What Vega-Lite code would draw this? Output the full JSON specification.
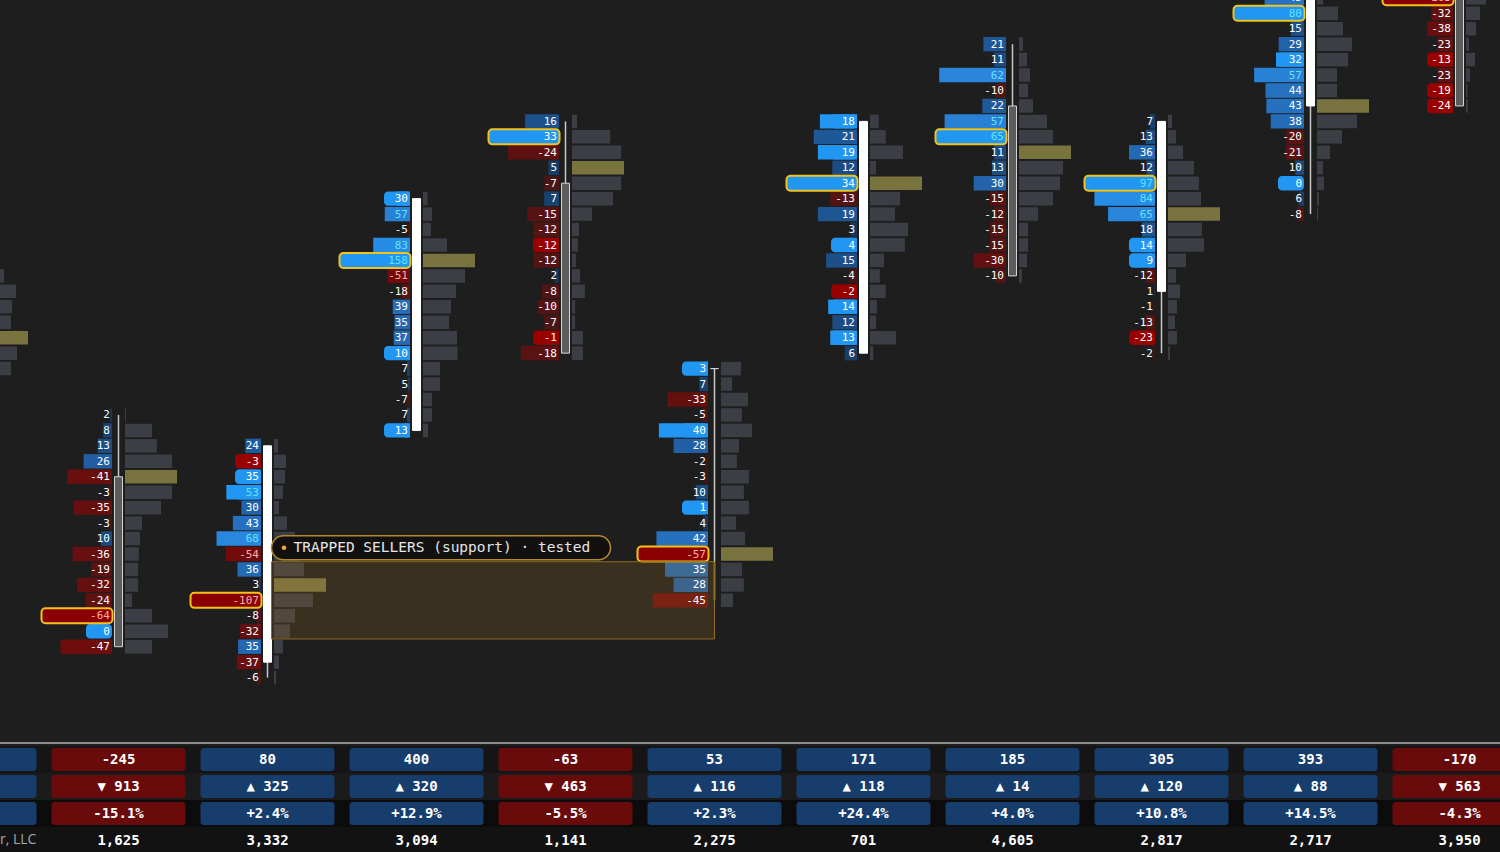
{
"$schema":"https://vega.github.io/schema/vega-lite/v6.json",
"width":1500,"height":852,"autosize":{"type":"none"},"padding":0,"background":"#1e1e1e",
"config":{"view":{"stroke":null},"text":{"font":"DejaVu Sans Mono"}},
"datasets":{
"cells":[
{"col":0,"lvl":26,"vol":280},{"col":0,"lvl":25,"vol":400},{"col":0,"lvl":24,"vol":360},{"col":0,"lvl":23,"vol":350},{"col":0,"lvl":22,"vol":520},{"col":0,"lvl":21,"vol":410},{"col":0,"lvl":20,"vol":350},
{"col":1,"lvl":17,"delta":2,"vol":4},{"col":1,"lvl":16,"delta":8,"vol":105},{"col":1,"lvl":15,"delta":13,"vol":124},{"col":1,"lvl":14,"delta":26,"vol":183},{"col":1,"lvl":13,"delta":-41,"vol":202},{"col":1,"lvl":12,"delta":-3,"vol":183},{"col":1,"lvl":11,"delta":-35,"vol":140},{"col":1,"lvl":10,"delta":-3,"vol":66},{"col":1,"lvl":9,"delta":10,"vol":58},{"col":1,"lvl":8,"delta":-36,"vol":54},{"col":1,"lvl":7,"delta":-19,"vol":51},{"col":1,"lvl":6,"delta":-32,"vol":51},{"col":1,"lvl":5,"delta":-24,"vol":27},{"col":1,"lvl":4,"delta":-64,"vol":105},{"col":1,"lvl":3,"delta":0,"vol":167,"imb":true},{"col":1,"lvl":2,"delta":-47,"vol":105},
{"col":2,"lvl":15,"delta":24,"vol":49},{"col":2,"lvl":14,"delta":-3,"vol":146,"imb":true},{"col":2,"lvl":13,"delta":35,"vol":134,"imb":true},{"col":2,"lvl":12,"delta":53,"vol":109,"imb":true},{"col":2,"lvl":11,"delta":30,"vol":61},{"col":2,"lvl":10,"delta":43,"vol":158},{"col":2,"lvl":9,"delta":68,"vol":255},{"col":2,"lvl":8,"delta":-54,"vol":304},{"col":2,"lvl":7,"delta":36,"vol":365},{"col":2,"lvl":6,"delta":3,"vol":632},{"col":2,"lvl":5,"delta":-107,"vol":474},{"col":2,"lvl":4,"delta":-8,"vol":255},{"col":2,"lvl":3,"delta":-32,"vol":195},{"col":2,"lvl":2,"delta":35,"vol":109},{"col":2,"lvl":1,"delta":-37,"vol":61},{"col":2,"lvl":0,"delta":-6,"vol":25},
{"col":3,"lvl":31,"delta":30,"vol":40,"imb":true},{"col":3,"lvl":30,"delta":57,"vol":79},{"col":3,"lvl":29,"delta":-5,"vol":70},{"col":3,"lvl":28,"delta":83,"vol":211},{"col":3,"lvl":27,"delta":158,"vol":457},{"col":3,"lvl":26,"delta":-51,"vol":369},{"col":3,"lvl":25,"delta":-18,"vol":290},{"col":3,"lvl":24,"delta":39,"vol":246},{"col":3,"lvl":23,"delta":35,"vol":229},{"col":3,"lvl":22,"delta":37,"vol":299},{"col":3,"lvl":21,"delta":10,"vol":304,"imb":true},{"col":3,"lvl":20,"delta":7,"vol":149},{"col":3,"lvl":19,"delta":5,"vol":149},{"col":3,"lvl":18,"delta":-7,"vol":79},{"col":3,"lvl":17,"delta":7,"vol":79},{"col":3,"lvl":16,"delta":13,"vol":44,"imb":true},
{"col":4,"lvl":36,"delta":16,"vol":18},{"col":4,"lvl":35,"delta":33,"vol":136},{"col":4,"lvl":34,"delta":-24,"vol":175},{"col":4,"lvl":33,"delta":5,"vol":185},{"col":4,"lvl":32,"delta":-7,"vol":175},{"col":4,"lvl":31,"delta":7,"vol":146},{"col":4,"lvl":30,"delta":-15,"vol":71},{"col":4,"lvl":29,"delta":-12,"vol":25},{"col":4,"lvl":28,"delta":-12,"vol":21,"imb":true},{"col":4,"lvl":27,"delta":-12,"vol":14},{"col":4,"lvl":26,"delta":2,"vol":29},{"col":4,"lvl":25,"delta":-8,"vol":46},{"col":4,"lvl":24,"delta":-10,"vol":11},{"col":4,"lvl":23,"delta":-7,"vol":11},{"col":4,"lvl":22,"delta":-1,"vol":39,"imb":true},{"col":4,"lvl":21,"delta":-18,"vol":39},
{"col":5,"lvl":20,"delta":3,"vol":123,"imb":true},{"col":5,"lvl":19,"delta":7,"vol":68},{"col":5,"lvl":18,"delta":-33,"vol":166},{"col":5,"lvl":17,"delta":-5,"vol":129},{"col":5,"lvl":16,"delta":40,"vol":191,"imb":true},{"col":5,"lvl":15,"delta":28,"vol":111},{"col":5,"lvl":14,"delta":-2,"vol":98},{"col":5,"lvl":13,"delta":-3,"vol":172},{"col":5,"lvl":12,"delta":10,"vol":141},{"col":5,"lvl":11,"delta":1,"vol":172,"imb":true},{"col":5,"lvl":10,"delta":4,"vol":92},{"col":5,"lvl":9,"delta":42,"vol":148},{"col":5,"lvl":8,"delta":-57,"vol":320},{"col":5,"lvl":7,"delta":35,"vol":129},{"col":5,"lvl":6,"delta":28,"vol":141},{"col":5,"lvl":5,"delta":-45,"vol":74},
{"col":6,"lvl":36,"delta":18,"vol":19,"imb":true},{"col":6,"lvl":35,"delta":21,"vol":34},{"col":6,"lvl":34,"delta":19,"vol":71,"imb":true},{"col":6,"lvl":33,"delta":12,"vol":13},{"col":6,"lvl":32,"delta":34,"vol":112},{"col":6,"lvl":31,"delta":-13,"vol":65},{"col":6,"lvl":30,"delta":19,"vol":54},{"col":6,"lvl":29,"delta":3,"vol":82},{"col":6,"lvl":28,"delta":4,"vol":75,"imb":true},{"col":6,"lvl":27,"delta":15,"vol":30},{"col":6,"lvl":26,"delta":-4,"vol":21},{"col":6,"lvl":25,"delta":-2,"vol":34,"imb":true},{"col":6,"lvl":24,"delta":14,"vol":15,"imb":true},{"col":6,"lvl":23,"delta":12,"vol":13},{"col":6,"lvl":22,"delta":13,"vol":56,"imb":true},{"col":6,"lvl":21,"delta":6,"vol":7},
{"col":7,"lvl":41,"delta":21,"vol":56},{"col":7,"lvl":40,"delta":11,"vol":113},{"col":7,"lvl":39,"delta":62,"vol":155},{"col":7,"lvl":38,"delta":-10,"vol":127},{"col":7,"lvl":37,"delta":22,"vol":197},{"col":7,"lvl":36,"delta":57,"vol":394},{"col":7,"lvl":35,"delta":65,"vol":479},{"col":7,"lvl":34,"delta":11,"vol":732},{"col":7,"lvl":33,"delta":13,"vol":620},{"col":7,"lvl":32,"delta":30,"vol":577},{"col":7,"lvl":31,"delta":-15,"vol":479},{"col":7,"lvl":30,"delta":-12,"vol":268},{"col":7,"lvl":29,"delta":-15,"vol":127},{"col":7,"lvl":28,"delta":-15,"vol":127},{"col":7,"lvl":27,"delta":-30,"vol":113},{"col":7,"lvl":26,"delta":-10,"vol":41},
{"col":8,"lvl":36,"delta":7,"vol":37},{"col":8,"lvl":35,"delta":13,"vol":74},{"col":8,"lvl":34,"delta":36,"vol":139},{"col":8,"lvl":33,"delta":12,"vol":241},{"col":8,"lvl":32,"delta":97,"vol":287},{"col":8,"lvl":31,"delta":84,"vol":306},{"col":8,"lvl":30,"delta":65,"vol":482},{"col":8,"lvl":29,"delta":18,"vol":315},{"col":8,"lvl":28,"delta":14,"vol":334,"imb":true},{"col":8,"lvl":27,"delta":9,"vol":167,"imb":true},{"col":8,"lvl":26,"delta":-12,"vol":74},{"col":8,"lvl":25,"delta":1,"vol":111},{"col":8,"lvl":24,"delta":-1,"vol":83},{"col":8,"lvl":23,"delta":-13,"vol":65},{"col":8,"lvl":22,"delta":-23,"vol":83,"imb":true},{"col":8,"lvl":21,"delta":-2,"vol":19},
{"col":9,"lvl":45,"delta":43,"vol":216},{"col":9,"lvl":44,"delta":45,"vol":50},{"col":9,"lvl":43,"delta":80,"vol":172},{"col":9,"lvl":42,"delta":15,"vol":213},{"col":9,"lvl":41,"delta":29,"vol":287},{"col":9,"lvl":40,"delta":32,"vol":254,"imb":true},{"col":9,"lvl":39,"delta":57,"vol":164},{"col":9,"lvl":38,"delta":44,"vol":164},{"col":9,"lvl":37,"delta":43,"vol":426},{"col":9,"lvl":36,"delta":38,"vol":328},{"col":9,"lvl":35,"delta":-20,"vol":205},{"col":9,"lvl":34,"delta":-21,"vol":107},{"col":9,"lvl":33,"delta":10,"vol":49},{"col":9,"lvl":32,"delta":0,"vol":57,"imb":true},{"col":9,"lvl":31,"delta":6,"vol":16},{"col":9,"lvl":30,"delta":-8,"vol":9},
{"col":10,"lvl":48,"delta":15,"vol":629},{"col":10,"lvl":47,"delta":20,"vol":800},{"col":10,"lvl":46,"delta":30,"vol":700},{"col":10,"lvl":45,"delta":40,"vol":822},{"col":10,"lvl":44,"delta":-103,"vol":316},{"col":10,"lvl":43,"delta":-32,"vol":221},{"col":10,"lvl":42,"delta":-38,"vol":158},{"col":10,"lvl":41,"delta":-23,"vol":47},{"col":10,"lvl":40,"delta":-13,"vol":142,"imb":true},{"col":10,"lvl":39,"delta":-23,"vol":63},{"col":10,"lvl":38,"delta":-19,"vol":24,"imb":true},{"col":10,"lvl":37,"delta":-24,"vol":28,"imb":true}
],
"candles":[
{"col":1,"open":13,"high":17,"low":2,"close":2},{"col":2,"open":1,"high":15,"low":0,"close":15},{"col":3,"open":16,"high":31,"low":16,"close":31},{"col":4,"open":32,"high":36,"low":21,"close":21},{"col":5,"open":20,"high":20,"low":5,"close":20},{"col":6,"open":21,"high":36,"low":21,"close":36},{"col":7,"open":37,"high":41,"low":26,"close":26},{"col":8,"open":25,"high":36,"low":21,"close":36},{"col":9,"open":37,"high":46,"low":30,"close":46},{"col":10,"open":48,"high":48,"low":37,"close":37}
],
"table":[
{"col":0,"row":1,"text":"668"},{"col":0,"row":2,"text":"▲ 412"},{"col":0,"row":3,"text":"+21.4%"},{"col":0,"row":4,"text":"3,120"},
{"col":1,"row":1,"text":"-245"},{"col":1,"row":2,"text":"▼ 913"},{"col":1,"row":3,"text":"-15.1%"},{"col":1,"row":4,"text":"1,625"},
{"col":2,"row":1,"text":"80"},{"col":2,"row":2,"text":"▲ 325"},{"col":2,"row":3,"text":"+2.4%"},{"col":2,"row":4,"text":"3,332"},
{"col":3,"row":1,"text":"400"},{"col":3,"row":2,"text":"▲ 320"},{"col":3,"row":3,"text":"+12.9%"},{"col":3,"row":4,"text":"3,094"},
{"col":4,"row":1,"text":"-63"},{"col":4,"row":2,"text":"▼ 463"},{"col":4,"row":3,"text":"-5.5%"},{"col":4,"row":4,"text":"1,141"},
{"col":5,"row":1,"text":"53"},{"col":5,"row":2,"text":"▲ 116"},{"col":5,"row":3,"text":"+2.3%"},{"col":5,"row":4,"text":"2,275"},
{"col":6,"row":1,"text":"171"},{"col":6,"row":2,"text":"▲ 118"},{"col":6,"row":3,"text":"+24.4%"},{"col":6,"row":4,"text":"701"},
{"col":7,"row":1,"text":"185"},{"col":7,"row":2,"text":"▲ 14"},{"col":7,"row":3,"text":"+4.0%"},{"col":7,"row":4,"text":"4,605"},
{"col":8,"row":1,"text":"305"},{"col":8,"row":2,"text":"▲ 120"},{"col":8,"row":3,"text":"+10.8%"},{"col":8,"row":4,"text":"2,817"},
{"col":9,"row":1,"text":"393"},{"col":9,"row":2,"text":"▲ 88"},{"col":9,"row":3,"text":"+14.5%"},{"col":9,"row":4,"text":"2,717"},
{"col":10,"row":1,"text":"-170"},{"col":10,"row":2,"text":"▼ 563"},{"col":10,"row":3,"text":"-4.3%"},{"col":10,"row":4,"text":"3,950"}
],
"rows":[{"row":1,"metric":"delta"},{"row":2,"metric":"delta change"},{"row":3,"metric":"delta %"},{"row":4,"metric":"volume"}],
"zone":[{"fromCol":2,"toCol":5,"lo":2.5,"hi":7.5,"label":"TRAPPED SELLERS (support) · tested"}],
"credit":[{"note":"r, LLC","pos":0,"row":4}]
},
"encoding":{"y":{"field":"lvl","type":"quantitative","scale":{"domain":[-11.288,43.858]},"axis":null}},
"layer":[
{"data":{"name":"rows"},"mark":{"type":"rect","yOffset":-13.5,"y2Offset":13.5},"encoding":{"y":{"field":"row","type":"quantitative","scale":{"domain":[-27.13,4.426],"reverse":true},"axis":null},"y2":{"field":"row"},"color":{"condition":[{"test":"datum.row==1","value":"#151515"},{"test":"datum.row==2","value":"#1b1b1b"},{"test":"datum.row==3","value":"#0c0c0c"}],"value":"#121212"}}},
{"data":{"name":"rows"},"transform":[{"filter":"datum.row==1"}],"mark":{"type":"rule","yOffset":-16.5,"color":"#8c8c8c","strokeWidth":2},"encoding":{"y":{"field":"row","type":"quantitative","scale":{"domain":[-27.13,4.426],"reverse":true},"axis":null}}},

{"data":{"name":"cells"},"transform":[{"filter":"datum.col==0"},{"joinaggregate":[{"op":"max","field":"vol","as":"vmax"}]}],"mark":{"type":"rect","yOffset":-6.75,"y2Offset":6.75},"encoding":{"x":{"field":"vol","type":"quantitative","scale":{"range":[-24,28],"zero":true,"nice":false},"axis":null},"x2":{"datum":0},"y2":{"field":"lvl"},"color":{"condition":{"test":"datum.vol==datum.vmax","value":"#79733f"},"value":"#3b3e44"}}},
{"data":{"name":"cells"},"transform":[{"filter":"datum.col==1"},{"joinaggregate":[{"op":"max","field":"vol","as":"vmax"}]}],"mark":{"type":"rect","yOffset":-6.75,"y2Offset":6.75},"encoding":{"x":{"field":"vol","type":"quantitative","scale":{"range":[125,177],"zero":true,"nice":false},"axis":null},"x2":{"datum":0},"y2":{"field":"lvl"},"color":{"condition":{"test":"datum.vol==datum.vmax","value":"#79733f"},"value":"#3b3e44"}}},
{"data":{"name":"cells"},"transform":[{"filter":"datum.col==2"},{"joinaggregate":[{"op":"max","field":"vol","as":"vmax"}]}],"mark":{"type":"rect","yOffset":-6.75,"y2Offset":6.75},"encoding":{"x":{"field":"vol","type":"quantitative","scale":{"range":[274,326],"zero":true,"nice":false},"axis":null},"x2":{"datum":0},"y2":{"field":"lvl"},"color":{"condition":{"test":"datum.vol==datum.vmax","value":"#79733f"},"value":"#3b3e44"}}},
{"data":{"name":"cells"},"transform":[{"filter":"datum.col==3"},{"joinaggregate":[{"op":"max","field":"vol","as":"vmax"}]}],"mark":{"type":"rect","yOffset":-6.75,"y2Offset":6.75},"encoding":{"x":{"field":"vol","type":"quantitative","scale":{"range":[423,475],"zero":true,"nice":false},"axis":null},"x2":{"datum":0},"y2":{"field":"lvl"},"color":{"condition":{"test":"datum.vol==datum.vmax","value":"#79733f"},"value":"#3b3e44"}}},
{"data":{"name":"cells"},"transform":[{"filter":"datum.col==4"},{"joinaggregate":[{"op":"max","field":"vol","as":"vmax"}]}],"mark":{"type":"rect","yOffset":-6.75,"y2Offset":6.75},"encoding":{"x":{"field":"vol","type":"quantitative","scale":{"range":[572,624],"zero":true,"nice":false},"axis":null},"x2":{"datum":0},"y2":{"field":"lvl"},"color":{"condition":{"test":"datum.vol==datum.vmax","value":"#79733f"},"value":"#3b3e44"}}},
{"data":{"name":"cells"},"transform":[{"filter":"datum.col==5"},{"joinaggregate":[{"op":"max","field":"vol","as":"vmax"}]}],"mark":{"type":"rect","yOffset":-6.75,"y2Offset":6.75},"encoding":{"x":{"field":"vol","type":"quantitative","scale":{"range":[721,773],"zero":true,"nice":false},"axis":null},"x2":{"datum":0},"y2":{"field":"lvl"},"color":{"condition":{"test":"datum.vol==datum.vmax","value":"#79733f"},"value":"#3b3e44"}}},
{"data":{"name":"cells"},"transform":[{"filter":"datum.col==6"},{"joinaggregate":[{"op":"max","field":"vol","as":"vmax"}]}],"mark":{"type":"rect","yOffset":-6.75,"y2Offset":6.75},"encoding":{"x":{"field":"vol","type":"quantitative","scale":{"range":[870,922],"zero":true,"nice":false},"axis":null},"x2":{"datum":0},"y2":{"field":"lvl"},"color":{"condition":{"test":"datum.vol==datum.vmax","value":"#79733f"},"value":"#3b3e44"}}},
{"data":{"name":"cells"},"transform":[{"filter":"datum.col==7"},{"joinaggregate":[{"op":"max","field":"vol","as":"vmax"}]}],"mark":{"type":"rect","yOffset":-6.75,"y2Offset":6.75},"encoding":{"x":{"field":"vol","type":"quantitative","scale":{"range":[1019,1071],"zero":true,"nice":false},"axis":null},"x2":{"datum":0},"y2":{"field":"lvl"},"color":{"condition":{"test":"datum.vol==datum.vmax","value":"#79733f"},"value":"#3b3e44"}}},
{"data":{"name":"cells"},"transform":[{"filter":"datum.col==8"},{"joinaggregate":[{"op":"max","field":"vol","as":"vmax"}]}],"mark":{"type":"rect","yOffset":-6.75,"y2Offset":6.75},"encoding":{"x":{"field":"vol","type":"quantitative","scale":{"range":[1168,1220],"zero":true,"nice":false},"axis":null},"x2":{"datum":0},"y2":{"field":"lvl"},"color":{"condition":{"test":"datum.vol==datum.vmax","value":"#79733f"},"value":"#3b3e44"}}},
{"data":{"name":"cells"},"transform":[{"filter":"datum.col==9"},{"joinaggregate":[{"op":"max","field":"vol","as":"vmax"}]}],"mark":{"type":"rect","yOffset":-6.75,"y2Offset":6.75},"encoding":{"x":{"field":"vol","type":"quantitative","scale":{"range":[1317,1369],"zero":true,"nice":false},"axis":null},"x2":{"datum":0},"y2":{"field":"lvl"},"color":{"condition":{"test":"datum.vol==datum.vmax","value":"#79733f"},"value":"#3b3e44"}}},
{"data":{"name":"cells"},"transform":[{"filter":"datum.col==10"},{"joinaggregate":[{"op":"max","field":"vol","as":"vmax"}]}],"mark":{"type":"rect","yOffset":-6.75,"y2Offset":6.75},"encoding":{"x":{"field":"vol","type":"quantitative","scale":{"range":[1466,1518],"zero":true,"nice":false},"axis":null},"x2":{"datum":0},"y2":{"field":"lvl"},"color":{"condition":{"test":"datum.vol==datum.vmax","value":"#79733f"},"value":"#3b3e44"}}},

{"data":{"name":"cells"},"transform":[{"filter":"datum.col==1 && datum.delta!=null"}],"mark":{"type":"rect","yOffset":-7.2,"y2Offset":7.2},"encoding":{"x":{"field":"delta","type":"quantitative","scale":{"domain":[-64,0,64],"range":[42,112,42],"zero":false,"nice":false},"axis":null},"x2":{"datum":0},"y2":{"field":"lvl"},"color":{"condition":[{"test":"datum.imb && datum.delta>=0","value":"#2196f3"},{"test":"datum.imb && datum.delta<0","value":"#990000"}],"field":"delta","type":"quantitative","scale":{"domain":[-110,-60,-30,-10,-1,0,1,10,30,60,110],"range":["#8b0000","#780909","#641010","#521414","#3a1818","#1e1e1e","#16314f","#1b4a7e","#2263aa","#2a84da","#2196f3"]},"legend":null}}},
{"data":{"name":"cells"},"transform":[{"filter":"datum.col==2 && datum.delta!=null"}],"mark":{"type":"rect","yOffset":-7.2,"y2Offset":7.2},"encoding":{"x":{"field":"delta","type":"quantitative","scale":{"domain":[-107,0,107],"range":[191,261,191],"zero":false,"nice":false},"axis":null},"x2":{"datum":0},"y2":{"field":"lvl"},"color":{"condition":[{"test":"datum.imb && datum.delta>=0","value":"#2196f3"},{"test":"datum.imb && datum.delta<0","value":"#990000"}],"field":"delta","type":"quantitative","scale":{"domain":[-110,-60,-30,-10,-1,0,1,10,30,60,110],"range":["#8b0000","#780909","#641010","#521414","#3a1818","#1e1e1e","#16314f","#1b4a7e","#2263aa","#2a84da","#2196f3"]},"legend":null}}},
{"data":{"name":"cells"},"transform":[{"filter":"datum.col==3 && datum.delta!=null"}],"mark":{"type":"rect","yOffset":-7.2,"y2Offset":7.2},"encoding":{"x":{"field":"delta","type":"quantitative","scale":{"domain":[-158,0,158],"range":[340,410,340],"zero":false,"nice":false},"axis":null},"x2":{"datum":0},"y2":{"field":"lvl"},"color":{"condition":[{"test":"datum.imb && datum.delta>=0","value":"#2196f3"},{"test":"datum.imb && datum.delta<0","value":"#990000"}],"field":"delta","type":"quantitative","scale":{"domain":[-110,-60,-30,-10,-1,0,1,10,30,60,110],"range":["#8b0000","#780909","#641010","#521414","#3a1818","#1e1e1e","#16314f","#1b4a7e","#2263aa","#2a84da","#2196f3"]},"legend":null}}},
{"data":{"name":"cells"},"transform":[{"filter":"datum.col==4 && datum.delta!=null"}],"mark":{"type":"rect","yOffset":-7.2,"y2Offset":7.2},"encoding":{"x":{"field":"delta","type":"quantitative","scale":{"domain":[-33,0,33],"range":[489,559,489],"zero":false,"nice":false},"axis":null},"x2":{"datum":0},"y2":{"field":"lvl"},"color":{"condition":[{"test":"datum.imb && datum.delta>=0","value":"#2196f3"},{"test":"datum.imb && datum.delta<0","value":"#990000"}],"field":"delta","type":"quantitative","scale":{"domain":[-110,-60,-30,-10,-1,0,1,10,30,60,110],"range":["#8b0000","#780909","#641010","#521414","#3a1818","#1e1e1e","#16314f","#1b4a7e","#2263aa","#2a84da","#2196f3"]},"legend":null}}},
{"data":{"name":"cells"},"transform":[{"filter":"datum.col==5 && datum.delta!=null"}],"mark":{"type":"rect","yOffset":-7.2,"y2Offset":7.2},"encoding":{"x":{"field":"delta","type":"quantitative","scale":{"domain":[-57,0,57],"range":[638,708,638],"zero":false,"nice":false},"axis":null},"x2":{"datum":0},"y2":{"field":"lvl"},"color":{"condition":[{"test":"datum.imb && datum.delta>=0","value":"#2196f3"},{"test":"datum.imb && datum.delta<0","value":"#990000"}],"field":"delta","type":"quantitative","scale":{"domain":[-110,-60,-30,-10,-1,0,1,10,30,60,110],"range":["#8b0000","#780909","#641010","#521414","#3a1818","#1e1e1e","#16314f","#1b4a7e","#2263aa","#2a84da","#2196f3"]},"legend":null}}},
{"data":{"name":"cells"},"transform":[{"filter":"datum.col==6 && datum.delta!=null"}],"mark":{"type":"rect","yOffset":-7.2,"y2Offset":7.2},"encoding":{"x":{"field":"delta","type":"quantitative","scale":{"domain":[-34,0,34],"range":[787,857,787],"zero":false,"nice":false},"axis":null},"x2":{"datum":0},"y2":{"field":"lvl"},"color":{"condition":[{"test":"datum.imb && datum.delta>=0","value":"#2196f3"},{"test":"datum.imb && datum.delta<0","value":"#990000"}],"field":"delta","type":"quantitative","scale":{"domain":[-110,-60,-30,-10,-1,0,1,10,30,60,110],"range":["#8b0000","#780909","#641010","#521414","#3a1818","#1e1e1e","#16314f","#1b4a7e","#2263aa","#2a84da","#2196f3"]},"legend":null}}},
{"data":{"name":"cells"},"transform":[{"filter":"datum.col==7 && datum.delta!=null"}],"mark":{"type":"rect","yOffset":-7.2,"y2Offset":7.2},"encoding":{"x":{"field":"delta","type":"quantitative","scale":{"domain":[-65,0,65],"range":[936,1006,936],"zero":false,"nice":false},"axis":null},"x2":{"datum":0},"y2":{"field":"lvl"},"color":{"condition":[{"test":"datum.imb && datum.delta>=0","value":"#2196f3"},{"test":"datum.imb && datum.delta<0","value":"#990000"}],"field":"delta","type":"quantitative","scale":{"domain":[-110,-60,-30,-10,-1,0,1,10,30,60,110],"range":["#8b0000","#780909","#641010","#521414","#3a1818","#1e1e1e","#16314f","#1b4a7e","#2263aa","#2a84da","#2196f3"]},"legend":null}}},
{"data":{"name":"cells"},"transform":[{"filter":"datum.col==8 && datum.delta!=null"}],"mark":{"type":"rect","yOffset":-7.2,"y2Offset":7.2},"encoding":{"x":{"field":"delta","type":"quantitative","scale":{"domain":[-97,0,97],"range":[1085,1155,1085],"zero":false,"nice":false},"axis":null},"x2":{"datum":0},"y2":{"field":"lvl"},"color":{"condition":[{"test":"datum.imb && datum.delta>=0","value":"#2196f3"},{"test":"datum.imb && datum.delta<0","value":"#990000"}],"field":"delta","type":"quantitative","scale":{"domain":[-110,-60,-30,-10,-1,0,1,10,30,60,110],"range":["#8b0000","#780909","#641010","#521414","#3a1818","#1e1e1e","#16314f","#1b4a7e","#2263aa","#2a84da","#2196f3"]},"legend":null}}},
{"data":{"name":"cells"},"transform":[{"filter":"datum.col==9 && datum.delta!=null"}],"mark":{"type":"rect","yOffset":-7.2,"y2Offset":7.2},"encoding":{"x":{"field":"delta","type":"quantitative","scale":{"domain":[-80,0,80],"range":[1234,1304,1234],"zero":false,"nice":false},"axis":null},"x2":{"datum":0},"y2":{"field":"lvl"},"color":{"condition":[{"test":"datum.imb && datum.delta>=0","value":"#2196f3"},{"test":"datum.imb && datum.delta<0","value":"#990000"}],"field":"delta","type":"quantitative","scale":{"domain":[-110,-60,-30,-10,-1,0,1,10,30,60,110],"range":["#8b0000","#780909","#641010","#521414","#3a1818","#1e1e1e","#16314f","#1b4a7e","#2263aa","#2a84da","#2196f3"]},"legend":null}}},
{"data":{"name":"cells"},"transform":[{"filter":"datum.col==10 && datum.delta!=null"}],"mark":{"type":"rect","yOffset":-7.2,"y2Offset":7.2},"encoding":{"x":{"field":"delta","type":"quantitative","scale":{"domain":[-103,0,103],"range":[1383,1453,1383],"zero":false,"nice":false},"axis":null},"x2":{"datum":0},"y2":{"field":"lvl"},"color":{"condition":[{"test":"datum.imb && datum.delta>=0","value":"#2196f3"},{"test":"datum.imb && datum.delta<0","value":"#990000"}],"field":"delta","type":"quantitative","scale":{"domain":[-110,-60,-30,-10,-1,0,1,10,30,60,110],"range":["#8b0000","#780909","#641010","#521414","#3a1818","#1e1e1e","#16314f","#1b4a7e","#2263aa","#2a84da","#2196f3"]},"legend":null}}},

{"encoding":{"x":{"field":"col","type":"quantitative","scale":{"domain":[0.2047,10.2718]},"axis":null}},
"layer":[
{"data":{"name":"cells"},"transform":[{"filter":"datum.imb"}],"mark":{"type":"rect","xOffset":-32.5,"x2Offset":-6.5,"yOffset":-7.2,"y2Offset":7.2,"cornerRadius":4},"encoding":{"x2":{"field":"col"},"y2":{"field":"lvl"},"color":{"condition":{"test":"datum.delta<0","value":"#990000"},"value":"#2196f3"}}},
{"data":{"name":"cells"},"transform":[{"filter":"datum.delta!=null"},{"joinaggregate":[{"op":"max","field":"delta","as":"mx"},{"op":"min","field":"delta","as":"mn"}],"groupby":["col"]},{"filter":"datum.delta==(datum.mx>=-datum.mn?datum.mx:datum.mn)"}],"mark":{"type":"rect","xOffset":-77,"x2Offset":-6,"yOffset":-7.5,"y2Offset":7.5,"cornerRadius":4,"stroke":"#f2c31b","strokeWidth":2},"encoding":{"x2":{"field":"col"},"y2":{"field":"lvl"},"color":{"condition":{"test":"datum.delta<0","value":"#8b0000"},"value":"#2196f3"}}},
{"data":{"name":"candles"},"mark":{"type":"rule","color":"#c8c8c8","strokeWidth":1.5},"encoding":{"y":{"field":"high","type":"quantitative","scale":{"domain":[-11.288,43.858]},"axis":null},"y2":{"field":"low"}}},
{"data":{"name":"candles"},"mark":{"type":"rect","xOffset":-4,"x2Offset":4,"strokeWidth":1},"encoding":{"x2":{"field":"col"},"y":{"field":"open","type":"quantitative","scale":{"domain":[-11.288,43.858]},"axis":null},"y2":{"field":"close"},"fill":{"condition":{"test":"datum.close>datum.open","value":"#ffffff"},"value":"#5c5c5c"},"stroke":{"condition":{"test":"datum.close>datum.open","value":"#ffffff"},"value":"#d4d4d4"}}},
{"data":{"name":"zone"},"mark":{"type":"rect","xOffset":4,"fill":"#aa7828","fillOpacity":0.2,"stroke":"#8f6d22","strokeWidth":1},"encoding":{"x":{"field":"fromCol","type":"quantitative","scale":{"domain":[0.2047,10.2718]},"axis":null},"x2":{"field":"toCol"},"y":{"field":"hi","type":"quantitative","scale":{"domain":[-11.288,43.858]},"axis":null},"y2":{"field":"lo"}}},
{"data":{"name":"cells"},"transform":[{"filter":"datum.delta!=null"}],"mark":{"type":"text","align":"right","baseline":"middle","dx":-8.5,"dy":0.5,"fontSize":11,"font":"DejaVu Sans Mono"},"encoding":{"text":{"field":"delta","type":"nominal"},"color":{"condition":[{"test":"datum.delta>=50","value":"#62e3ff"},{"test":"datum.delta<=-50","value":"#ffb0b0"}],"value":"#ffffff"}}},
{"data":{"name":"zone"},"mark":{"type":"rect","xOffset":4,"x2Offset":343,"yOffset":-26,"y2Offset":-2,"cornerRadius":12,"fill":"#121110","stroke":"#b48a2c","strokeWidth":1.5},"encoding":{"x":{"field":"fromCol","type":"quantitative","scale":{"domain":[0.2047,10.2718]},"axis":null},"x2":{"field":"fromCol"},"y":{"field":"hi","type":"quantitative","scale":{"domain":[-11.288,43.858]},"axis":null},"y2":{"field":"hi"}}},
{"data":{"name":"zone"},"mark":{"type":"point","filled":true,"size":22,"xOffset":16.5,"yOffset":-14,"color":"#f0a53a","opacity":1},"encoding":{"x":{"field":"fromCol","type":"quantitative","scale":{"domain":[0.2047,10.2718]},"axis":null},"y":{"field":"hi","type":"quantitative","scale":{"domain":[-11.288,43.858]},"axis":null}}},
{"data":{"name":"zone"},"mark":{"type":"text","align":"left","baseline":"middle","dx":26,"dy":-13.5,"fontSize":14.5,"font":"DejaVu Sans Mono","color":"#e6e6e6"},"encoding":{"x":{"field":"fromCol","type":"quantitative","scale":{"domain":[0.2047,10.2718]},"axis":null},"y":{"field":"hi","type":"quantitative","scale":{"domain":[-11.288,43.858]},"axis":null},"text":{"field":"label"}}}
]},

{"encoding":{"x":{"field":"col","type":"quantitative","scale":{"domain":[0.2047,10.2718]},"axis":null},"y":{"field":"row","type":"quantitative","scale":{"domain":[-27.13,4.426],"reverse":true},"axis":null}},
"layer":[
{"data":{"name":"table"},"transform":[{"filter":"datum.row<=3"}],"mark":{"type":"rect","xOffset":-67,"x2Offset":67,"yOffset":-11.5,"y2Offset":11.5,"cornerRadius":3},"encoding":{"x2":{"field":"col"},"y2":{"field":"row"},"color":{"condition":{"test":"substring(datum.text,0,1)=='-' || substring(datum.text,0,1)=='▼'","value":"#6a0b0b"},"value":"#163d6c"}}},
{"data":{"name":"table"},"mark":{"type":"text","font":"DejaVu Sans Mono","fontWeight":"bold","fontSize":14,"color":"#ffffff","baseline":"middle","align":"center","dy":1},"encoding":{"text":{"field":"text"}}}
]},

{"data":{"name":"credit"},"mark":{"type":"text","font":"Open Sans","fontSize":14,"color":"#a8a8a8","align":"left","baseline":"middle","dx":0},"encoding":{"x":{"field":"pos","type":"quantitative","scale":{"domain":[0,1]},"axis":null},"y":{"field":"row","type":"quantitative","scale":{"domain":[-27.13,4.426],"reverse":true},"axis":null},"text":{"field":"note","type":"nominal"}}}
],
"resolve":{"scale":{"x":"independent","y":"independent"}}
}
